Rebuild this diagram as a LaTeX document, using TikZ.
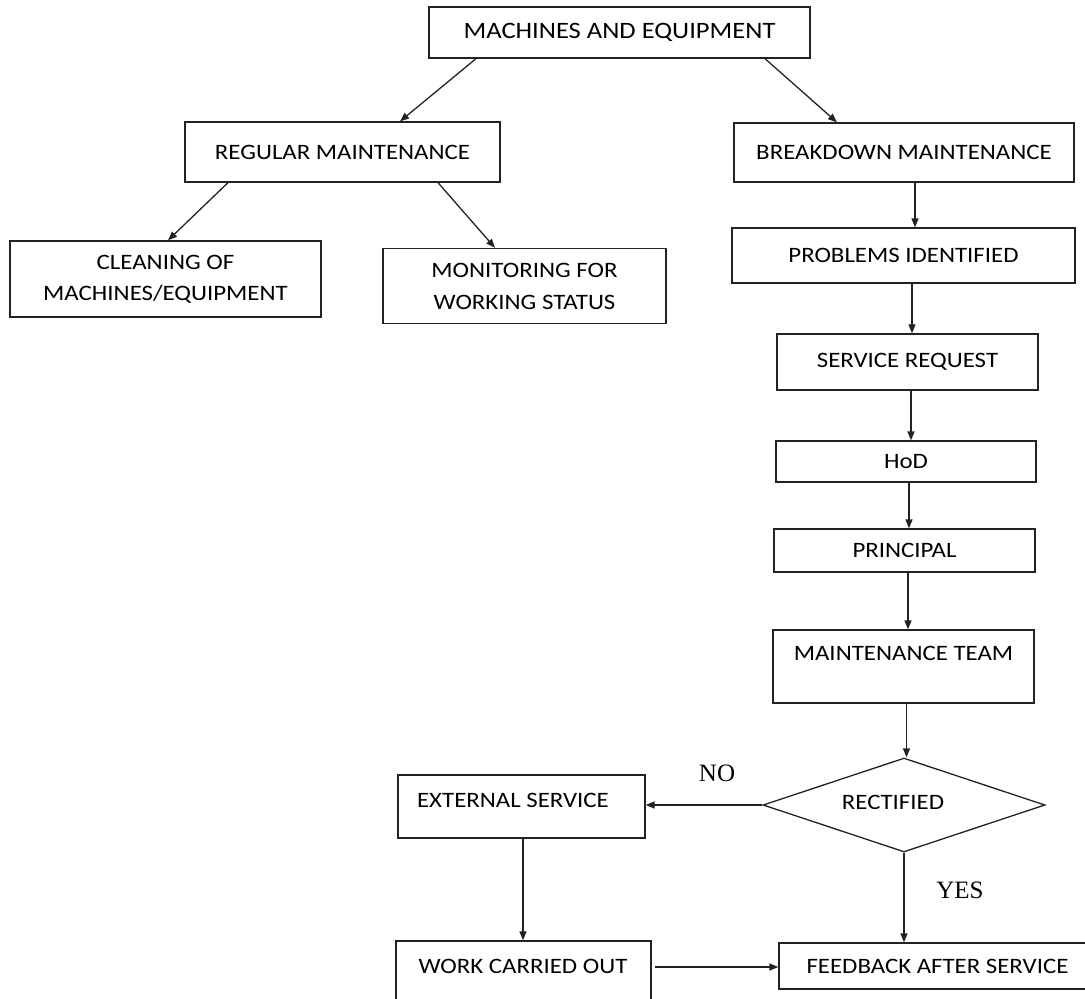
\documentclass[tikz,border=0pt]{standalone}
\usepackage{fontspec}
\setmainfont{Carlito}[FakeStretch=1.13]
\newfontfamily\lblfont{Liberation Serif}
\usetikzlibrary{arrows.meta,shapes.geometric}
\definecolor{ink}{HTML}{222222}
\begin{document}
\begin{tikzpicture}[x=1pt,y=-1pt,
  box/.style={draw=ink, line width=1.3pt, rectangle, inner sep=0pt, align=center,
    font=\fontsize{22}{31}\selectfont, text=black},
  txt/.style={inner sep=0pt, align=center, font=\fontsize{22}{31}\selectfont, text=black},
  decision/.style={draw=ink, line width=1.3pt, diamond, inner sep=0pt},
  arr/.style={draw=ink, line width=1.3pt, -{Triangle[length=9pt,width=7pt]}},
  lbl/.style={inner sep=0pt, font=\lblfont\fontsize{25}{25}\selectfont, text=black}]
\useasboundingbox (0,0) rectangle (1085,999);
\clip (0,0) rectangle (1085,999);

% boxes
\node[box, minimum width=381pt, minimum height=51pt, font=\fontsize{23.5}{30}\selectfont] (me) at (619.5,32.5) {MACHINES AND EQUIPMENT};
\node[box, minimum width=315pt, minimum height=60pt] (reg) at (342.5,152) {REGULAR MAINTENANCE};
\node[box, minimum width=340pt, minimum height=59pt] (brk) at (904,152.5) {BREAKDOWN MAINTENANCE};
\node[box, minimum width=311pt, minimum height=76pt] (cln) at (165.5,279) {CLEANING OF\\MACHINES/EQUIPMENT};
\node[box, minimum width=283pt, minimum height=75pt, font=\fontsize{22}{32}\selectfont] (mon) at (524.5,286) {MONITORING FOR\\WORKING STATUS};
\node[box, minimum width=343pt, minimum height=55pt] (prb) at (903.5,255.5) {PROBLEMS IDENTIFIED};
\node[box, minimum width=261pt, minimum height=56pt] (srv) at (907.5,362) {SERVICE REQUEST};
\node[box, minimum width=260pt, minimum height=41pt] (hod) at (906,461.5) {HoD};
\node[box, minimum width=261pt, minimum height=43pt] (prn) at (904.5,550.5) {PRINCIPAL};
\node[box, minimum width=261pt, minimum height=73pt] (mt) at (903.5,666.5) {};
\node[txt] (mtt) at (903.5,653) {MAINTENANCE TEAM};
\node[decision, minimum width=282pt, minimum height=94pt] (dia) at (904,805) {};
\node[txt] (diat) at (893,802) {RECTIFIED};
\node[box, minimum width=247pt, minimum height=63pt] (ext) at (521.5,806.5) {};
\node[txt] (extt) at (513,800) {EXTERNAL SERVICE};
\node[box, minimum width=255pt, minimum height=74pt] (wrk) at (523.5,978) {};
\node[txt] (wrkt) at (523,966) {WORK CARRIED OUT};
\node[box, minimum width=321pt, minimum height=46pt] (fb) at (939.5,966) {};
\node[txt] (fbt) at (937.5,966) {FEEDBACK AFTER SERVICE};

% labels
\node[lbl] (no) at (717,773) {NO};
\node[lbl] (yes) at (960,890) {YES};

% helper coordinates
\coordinate (c1) at ([xshift=11pt]brk.south);
\coordinate (c2) at ([xshift=8.5pt]prb.south);
\coordinate (c3) at ([xshift=3.5pt]srv.south);
\coordinate (c4) at ([xshift=3pt]hod.south);
\coordinate (c5) at ([xshift=3.5pt]prn.south);
\coordinate (c6) at ([xshift=3pt]mt.south);
\coordinate (c7) at ([xshift=1.5pt]ext.south);
\coordinate (c8) at ([yshift=11pt,xshift=3pt]wrk.east);

% connectors
\draw[arr] ([xshift=-143.5pt]me.south) -- ([xshift=57.5pt]reg.north);
\draw[arr] ([xshift=145.5pt]me.south) -- ([xshift=-67pt]brk.north);
\draw[arr] ([xshift=-114.5pt]reg.south) -- ([xshift=2.5pt]cln.north);
\draw[arr] ([xshift=95.5pt]reg.south) -- ([xshift=-29.5pt]mon.north);
\draw[arr] (c1) -- (c1 |- prb.north);
\draw[arr] (c2) -- (c2 |- srv.north);
\draw[arr] (c3) -- (c3 |- hod.north);
\draw[arr] (c4) -- (c4 |- prn.north);
\draw[arr] (c5) -- (c5 |- mt.north);
\draw[arr] (c6) -- (c6 |- dia.north);
\draw[arr] (dia.south) -- (dia.south |- fb.north);
\draw[arr] (dia.west) -- (dia.west -| ext.east);
\draw[arr] (c7) -- (c7 |- wrk.north);
\draw[arr] (c8) -- (c8 -| fb.west);
\end{tikzpicture}
\end{document}
